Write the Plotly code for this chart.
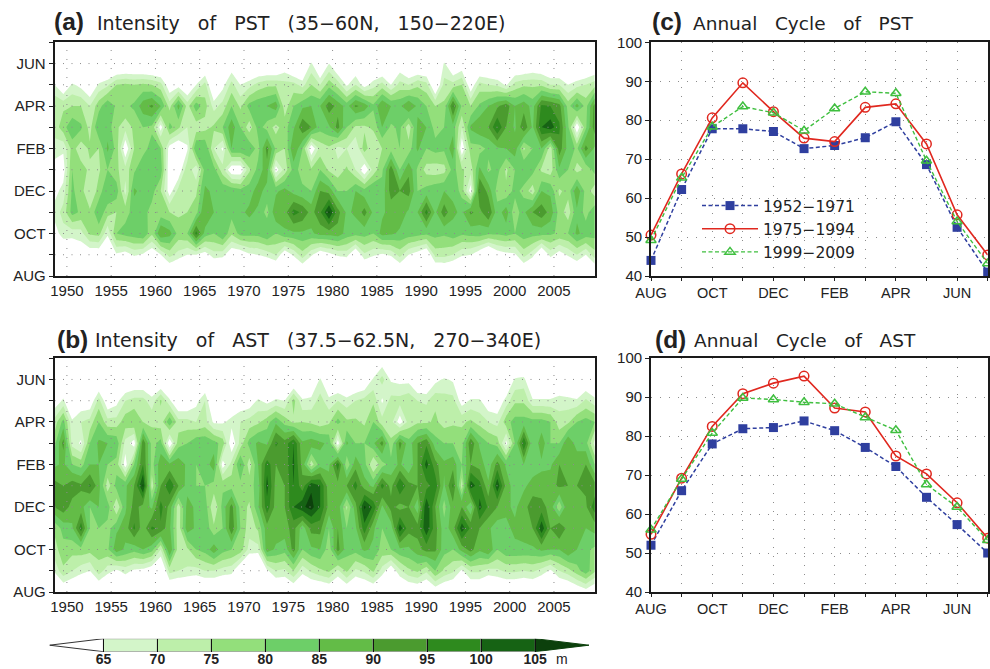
import plotly.graph_objects as go

# ---------- data ----------
years = [1948.6 + i for i in range(62)]
year_ticks = [1950, 1955, 1960, 1965, 1970, 1975, 1980, 1985, 1990, 1995, 2000, 2005]
months = ["AUG", "SEP", "OCT", "NOV", "DEC", "JAN", "FEB", "MAR", "APR", "MAY", "JUN", "JUL"]
month_labels = ["AUG", "", "OCT", "", "DEC", "", "FEB", "", "APR", "", "JUN", ""]
levels = [65, 70, 75, 80, 85, 90, 95, 100, 105]
band_colors = ["#ffffff", "#d3f5c9", "#bdefaa", "#93df7b", "#6dcf68", "#63bc47",
               "#4b9b2f", "#2e8a1e", "#166314", "#0c400c"]

pst_aug = [46,47,48,46,45,47,46,48,47,49, 48,47,50,54,52,50,49,47,50,50, 46,47,48,49,50,52,47,50,54,49,
           47,48,49,50,47,51,49,48,50,54, 48,47,46,53,54,52,50,48,46,44, 47,48,49,54,50,46,50,47,49,53, 49,54]
pst_sep = [52,56,58,60,60,60,56,64,62,66, 64,60,65,72,68,65,65,62,68,67, 60,60,64,65,67,70,60,66,73,66,
           60,63,66,67,58,69,66,64,66,72, 65,62,58,72,72,70,66,65,60,54, 61,63,64,72,67,56,67,62,66,70, 65,73]
pst_oct = [62,68,67,68,76,77,66,80,82,83, 85,76,90,87,78,80,97,83,80,85, 76,82,82,82,85,80,84,84,84,84,
           87,87,88,83,82,82,80,87,86,84, 83,82,81,82,81,83,81,82,83,81, 81,82,80,83,82,82,81,79,80,86, 83,82]
pst_nov = [67,72,82,79,76,84,77,75,78,82, 82,78,77,75,74,75,78,90,85,83, 82,84,86,84,78,89,88,97,94,88,
           94,106,92,84,86,92,84,84,87,88, 84,85,97,84,93,86,84,91,88,95, 82,88,76,84,90,93,88,78,72,84, 78,84]
pst_dec = [63,67,81,77,70,77,85,83,68,86, 83,82,75,62,72,74,74,86,84,84, 84,82,83,87,83,84,87,83,81,80,
           90,88,80,80,85,82,85,82,92,90, 92,80,82,84,85,84,78,62,96,88, 78,76,82,78,72,85,84,74,77,89, 78,72]
pst_jan = [62,62,80,77,74,74,80,76,72,79, 84,85,83,60,60,74,66,82,82,72, 60,60,74,82,88,62,72,82,78,76,
           80,74,72,76,70,60,72,79,93,80, 89,79,73,72,73,82,76,72,86,79, 82,74,80,85,82,74,72,84,80,73, 76,82]
pst_feb = [68,66,77,72,76,75,86,78,60,75, 78,82,80,62,58,64,85,85,70,64, 85,85,84,78,92,79,75,90,80,60,
           72,74,68,70,65,78,70,75,78,80, 77,86,80,82,81,88,60,78,78,81, 84,85,88,74,80,85,72,93,83,79, 92,84]
pst_mar = [72,78,84,81,73,85,83,76,72,76, 80,79,62,82,76,70,72,73,76,80, 88,80,72,82,78,73,78,84,94,90,
           82,84,92,80,74,74,76,85,79,81, 72,86,85,78,80,83,70,86,89,90, 100,90,84,94,84,100,103,96,81,60, 79,93]
pst_apr = [75,74,75,75,70,78,84,79,79,81, 88,91,85,73,87,73,83,77,68,72, 80,74,82,84,85,88,72,80,84,85,
           85,93,88,83,91,88,81,90,85,84, 90,84,80,75,76,96,79,75,81,85, 89,93,85,88,83,96,95,92,78,87, 78,92]
pst_may = [65,58,66,63,58,66,69,75,76,75, 76,75,72,60,62,57,65,72,55,63, 72,65,68,72,74,74,72,72,68,75,
           70,78,73,64,70,62,68,72,65,72, 70,74,72,57,72,72,75,60,72,70, 69,64,72,74,74,74,70,70,65,68, 70,73]
pst_jun = [50,48,50,48,47,50,52,54,55,55, 54,53,52,50,50,48,50,56,46,50, 60,50,52,54,54,54,60,54,52,66,
           54,65,56,50,58,50,52,54,50,60, 54,55,54,48,66,56,60,48,54,54, 52,50,56,56,58,56,54,54,52,52, 54,56]
pst_jul = [42,40,41,40,39,41,42,43,44,43, 43,42,41,40,40,39,41,44,38,40, 46,41,42,43,43,43,46,43,42,47,
           43,47,44,40,45,41,42,43,41,46, 43,44,43,40,47,44,46,40,43,43, 42,41,44,44,45,44,43,43,42,42, 43,44]
pst_rows = [pst_aug, pst_sep, pst_oct, pst_nov, pst_dec, pst_jan, pst_feb, pst_mar, pst_apr, pst_may, pst_jun, pst_jul]

ast_aug = [52,58,56,54,52,56,54,52,55,53, 53,50,50,56,55,54,54,55,55,54, 54,50,48,48,53,55,55,58,54,56,
           56,58,54,58,54,56,58,54,52,54, 57,58,56,60,57,56,52,56,56,54, 55,56,56,55,56,54,52,55,56,59, 62,58]
ast_sep = [66,74,70,67,65,73,67,64,67,64, 63,60,55,72,70,69,68,70,70,68, 67,58,52,50,64,70,69,75,67,71,
           74,76,69,76,69,71,76,68,60,69, 74,76,71,80,74,71,64,71,71,68, 69,71,71,70,71,68,64,70,73,78, 83,76]
ast_oct = [73,78,77,78,77,77,79,88,84,82, 85,82,70,90,72,74,80,82,88,82, 80,78,68,68,88,84,82,92,80,84,
           85,77,92,82,82,86,84,78,80,84, 84,88,92,91,82,80,87,92,86,90, 80,84,84,84,84,86,85,85,90,85, 81,79]
ast_nov = [76,82,84,98,80,80,78,84,87,96, 87,96,94,86,72,88,84,84,76,80, 94,80,72,76,88,88,88,92,82,92,
           92,80,90,80,84,98,86,80,82,103, 92,92,104,92,82,88,103,94,90,86, 82,84,86,87,90,104,90,95,88,88, 85,87]
ast_dec = [90,93,88,87,80,85,83,70,84,92, 88,84,97,88,72,87,84,83,70,82, 92,78,74,84,98,88,90,100,104,107,
           100,88,88,74,88,106,99,84,92,88, 90,82,105,90,78,88,90,80,102,94, 90,86,84,88,93,92,88,76,90,86, 89,98]
ast_jan = [92,90,93,91,96,87,72,82,84,90, 106,72,90,100,90,83,80,80,78,79, 78,78,78,82,102,88,90,100,92,104,
           100,87,88,90,97,87,84,97,88,100, 92,90,93,98,84,96,72,103,97,86, 104,88,82,84,87,87,88,91,90,90, 91,92]
ast_feb = [84,86,80,78,85,85,80,78,62,80, 95,78,88,86,88,84,80,82,88,62, 72,86,72,85,98,90,91,101,88,72,
           83,84,98,76,88,82,70,78,82,86, 80,90,102,92,86,88,80,90,88,82, 92,84,84,85,82,84,84,90,88,90, 90,80]
ast_mar = [78,92,68,64,80,86,85,84,68,62, 94,78,82,60,78,80,84,84,82,78, 60,72,82,86,84,96,92,100,86,88,
           86,84,62,86,80,80,84,92,76,92, 82,90,94,82,80,80,78,94,84,80, 78,63,80,100,80,88,80,80,90,82, 82,68]
ast_apr = [72,82,66,70,72,80,72,72,78,80, 75,74,72,84,72,72,70,72,64,64, 67,70,72,74,78,84,78,74,75,74,
           72,74,82,76,76,74,80,72,72,62, 72,74,74,76,73,74,74,76,73,70, 68,78,82,82,82,82,80,72,74,80, 82,80]
ast_may = [61,66,57,60,60,72,60,63,70,72, 72,67,76,66,58,58,63,70,54,54, 58,60,61,66,63,66,65,77,66,67,
           72,67,70,67,70,72,74,64,72,72, 74,70,69,74,72,72,62,66,66,60, 60,67,74,74,66,66,66,68,67,66, 71,67]
ast_jun = [52,56,50,52,52,56,52,54,56,58, 58,56,56,54,50,50,54,56,48,48, 50,52,52,54,52,54,58,56,54,55,
           66,55,56,54,56,58,66,72,64,63, 63,56,56,63,66,64,52,54,54,50, 50,56,66,67,54,54,54,55,55,54, 58,54]
ast_jul = [44,46,42,44,44,46,44,45,46,47, 47,46,46,45,42,42,45,46,40,40, 42,44,44,45,44,45,47,46,45,46,
           50,46,46,45,46,47,50,60,50,48, 48,46,46,48,50,49,44,45,45,42, 42,46,50,50,45,45,45,46,46,45, 47,45]
ast_rows = [ast_aug, ast_sep, ast_oct, ast_nov, ast_dec, ast_jan, ast_feb, ast_mar, ast_apr, ast_may, ast_jun, ast_jul]

period_names = ["1952−1971", "1975−1994", "1999−2009"]
pst_1952 = [44, 62.2, 77.8, 77.8, 77.1, 72.7, 73.5, 75.5, 79.6, 68.6, 52.5, 41]
pst_1975 = [50.5, 66.2, 80.6, 89.6, 82.2, 75.4, 74.5, 83.3, 84.2, 73.9, 55.7, 45.4]
pst_1999 = [49.2, 65.2, 78.3, 83.5, 81.9, 77.3, 83, 87.3, 86.9, 69.6, 54, 43.2]
ast_1952 = [52, 66, 78, 81.9, 82.2, 83.9, 81.4, 77.1, 72.2, 64.3, 57.3, 50]
ast_1975 = [54.8, 69.2, 82.5, 90.9, 93.6, 95.4, 87.2, 86.2, 74.9, 70.3, 62.9, 53.8]
ast_1999 = [56, 69, 80.8, 89.8, 89.4, 88.7, 88.3, 84.8, 81.5, 67.6, 61.8, 53.3]

# ---------- layout helpers ----------
W, H = 990, 669
def xdom(a, b): return [a / W, b / W]
def ydom(t, b): return [1 - b / H, 1 - t / H]

SANS = "Liberation Sans"
WIDE = "DejaVu Sans"
GRID = "#8c8c8c"
fig = go.Figure()

# colourscale: one flat step per band, from 60 to 110
step_scale = []
for k, c in enumerate(band_colors):
    step_scale += [[k / 10, c], [(k + 1) / 10, c]]

def add_hov(rows, xa, ya):
    fig.add_trace(go.Contour(
        x=years, y=list(range(12)), z=rows, xaxis=xa, yaxis=ya,
        zmin=60, zmax=110, colorscale=step_scale, showscale=False, hoverinfo="skip",
        autocontour=False,
        contours=dict(coloring="fill", start=65, end=105, size=5),
        line=dict(width=0, smoothing=0),
    ))
    for t in year_ticks:
        fig.add_trace(go.Scatter(x=[t, t], y=[0, 11], xaxis=xa, yaxis=ya, mode="lines",
                                 line=dict(color=GRID, width=1, dash="1px,8px"),
                                 showlegend=False, hoverinfo="skip"))
    for m in range(1, 11):
        fig.add_trace(go.Scatter(x=[years[0], years[-1]], y=[m, m], xaxis=xa, yaxis=ya, mode="lines",
                                 line=dict(color=GRID, width=1, dash="1px,7.5px"),
                                 showlegend=False, hoverinfo="skip"))

def add_cycle(a, b, c, xa, ya, legend):
    idx = list(range(12))
    fig.add_trace(go.Scatter(x=idx, y=a, xaxis=xa, yaxis=ya, mode="lines+markers", name=period_names[0],
                             showlegend=legend, cliponaxis=False,
                             line=dict(color="#2f3f9f", width=1.5, dash="4px,2.5px"),
                             marker=dict(symbol="square", size=9, color="#2f3f9f")))
    fig.add_trace(go.Scatter(x=idx, y=b, xaxis=xa, yaxis=ya, mode="lines+markers", name=period_names[1],
                             showlegend=legend, cliponaxis=False,
                             line=dict(color="#e0281f", width=1.6),
                             marker=dict(symbol="circle-open", size=9.5, color="#e0281f", line=dict(width=1.5))))
    fig.add_trace(go.Scatter(x=idx, y=c, xaxis=xa, yaxis=ya, mode="lines+markers", name=period_names[2],
                             showlegend=legend, cliponaxis=False,
                             line=dict(color="#3fbf3f", width=1.4, dash="4px,2.5px"),
                             marker=dict(symbol="triangle-up-open", size=9, color="#3fbf3f", line=dict(width=1.5))))

add_hov(pst_rows, "x", "y")
add_hov(ast_rows, "x2", "y2")
add_cycle(pst_1952, pst_1975, pst_1999, "x3", "y3", True)
add_cycle(ast_1952, ast_1975, ast_1999, "x4", "y4", False)

# colour bar, drawn on its own axis
for lo, c in zip(levels[:-1], band_colors[1:-1]):
    fig.add_trace(go.Bar(x=[5], base=[lo], y=[0], width=[1], orientation="h", xaxis="x5", yaxis="y5",
                         marker=dict(color=c, line=dict(color="#8a8a8a", width=1)),
                         showlegend=False, hoverinfo="skip"))
fig.add_trace(go.Scatter(x=[levels[0], 60, levels[0], levels[0]], y=[0.5, 0, -0.5, 0.5], xaxis="x5", yaxis="y5",
                         mode="lines", fill="toself", fillcolor="#ffffff", line=dict(color="#333333", width=1),
                         showlegend=False, hoverinfo="skip", cliponaxis=False))
fig.add_trace(go.Scatter(x=[levels[-1], 110, levels[-1], levels[-1]], y=[0.5, 0, -0.5, 0.5], xaxis="x5", yaxis="y5",
                         mode="lines", fill="toself", fillcolor=band_colors[-1], line=dict(color=band_colors[-1], width=1),
                         showlegend=False, hoverinfo="skip", cliponaxis=False))

frame = dict(showline=True, linecolor="#1a1a1a", linewidth=1.7, mirror=True, zeroline=False, automargin=False)
year_axis = dict(frame, range=[years[0], years[-1]], tickmode="array", tickvals=year_ticks,
                 ticks="", showgrid=False, tickfont=dict(family=SANS, size=15, color="#222"))
month_y = dict(frame, range=[0, 11], tickmode="array", tickvals=list(range(12)), ticktext=month_labels,
               ticks="outside", ticklen=4, tickcolor="#222", showgrid=False,
               tickfont=dict(family=SANS, size=15, color="#222"))
month_x = dict(frame, range=[0, 11], tickmode="array", tickvals=list(range(12)), ticktext=month_labels,
               ticks="outside", ticklen=3, tickcolor="#222", showgrid=True, gridcolor=GRID, griddash="1px,8px",
               gridwidth=1, tickfont=dict(family=SANS, size=14.5, color="#222"))
val_y = dict(frame, range=[40, 100], tickmode="array", tickvals=[40, 50, 60, 70, 80, 90, 100],
             ticks="outside", ticklen=4, tickcolor="#222", showgrid=True, gridcolor=GRID, griddash="1px,8px",
             gridwidth=1, tickfont=dict(family=SANS, size=15, color="#222"))

L1, R1, L2, R2 = 54.5, 594.7, 651, 987.7
T1, B1, T2, B2 = 42.3, 276, 358.2, 592

fig.update_layout(
    width=W, height=H, margin=dict(l=0, r=0, t=0, b=0, autoexpand=False), paper_bgcolor="white", plot_bgcolor="white",
    barmode="overlay", autosize=False,
    xaxis=dict(year_axis, domain=xdom(L1, R1), anchor="y"),
    yaxis=dict(month_y, domain=ydom(T1, B1), anchor="x"),
    xaxis2=dict(year_axis, domain=xdom(L1, R1), anchor="y2"),
    yaxis2=dict(month_y, domain=ydom(T2, B2), anchor="x2"),
    xaxis3=dict(month_x, domain=xdom(L2, R2), anchor="y3"),
    yaxis3=dict(val_y, domain=ydom(T1, B1), anchor="x3"),
    xaxis4=dict(month_x, domain=xdom(L2, R2), anchor="y4"),
    yaxis4=dict(val_y, domain=ydom(T2, B2), anchor="x4"),
    xaxis5=dict(domain=xdom(49.5, 589), anchor="y5", range=[60, 110], tickmode="array", tickvals=levels,
                ticks="inside", ticklen=13, tickcolor="#111", tickwidth=1, showgrid=False, zeroline=False,
                showline=False, automargin=False, ticklabelstandoff=-3,
                tickfont=dict(family=SANS, size=14, color="#222", weight="bold")),
    yaxis5=dict(domain=ydom(638.7, 651.7), anchor="x5", range=[-0.5, 0.5], showticklabels=False, ticks="",
                showgrid=False, zeroline=False, showline=False, automargin=False),
    legend=dict(x=697 / W, y=1 - 189 / H, xanchor="left", yanchor="top", bgcolor="rgba(0,0,0,0)",
                font=dict(family=WIDE, size=15.5, color="#222"), itemwidth=56, tracegroupgap=0),
    showlegend=True,
)

def label(x, y, text, size, family, bold=False):
    fig.add_annotation(x=x / W, y=1 - y / H, xref="paper", yref="paper", text=text, showarrow=False,
                       xanchor="left", yanchor="middle", xshift=0,
                       font=dict(family=family, size=size, color="#222", weight="bold" if bold else "normal"))

gap = "\u00a0\u00a0\u00a0"
label(52, 22, "(a)", 24.5, SANS, True)
label(95, 23, f"Intensity{gap}of{gap}PST{gap}(35−60N,{gap}150−220E)", 19, WIDE)
label(55, 339, "(b)", 24.5, SANS, True)
label(93, 340, f"Intensity{gap}of{gap}AST{gap}(37.5−62.5N,{gap}270−340E)", 19, WIDE)
label(650, 22, "(c)", 24.5, SANS, True)
label(691, 23, f"Annual{gap}Cycle{gap}of{gap}PST", 18.5, WIDE)
label(653, 339, "(d)", 24.5, SANS, True)
label(692, 340, f"Annual{gap}Cycle{gap}of{gap}AST", 18.5, WIDE)
label(554, 659, "m", 14, SANS)

fig.write_html("out.html", config=dict(displayModeBar=False),
               post_script="document.body.style.margin='0';document.body.style.overflow='hidden';")
